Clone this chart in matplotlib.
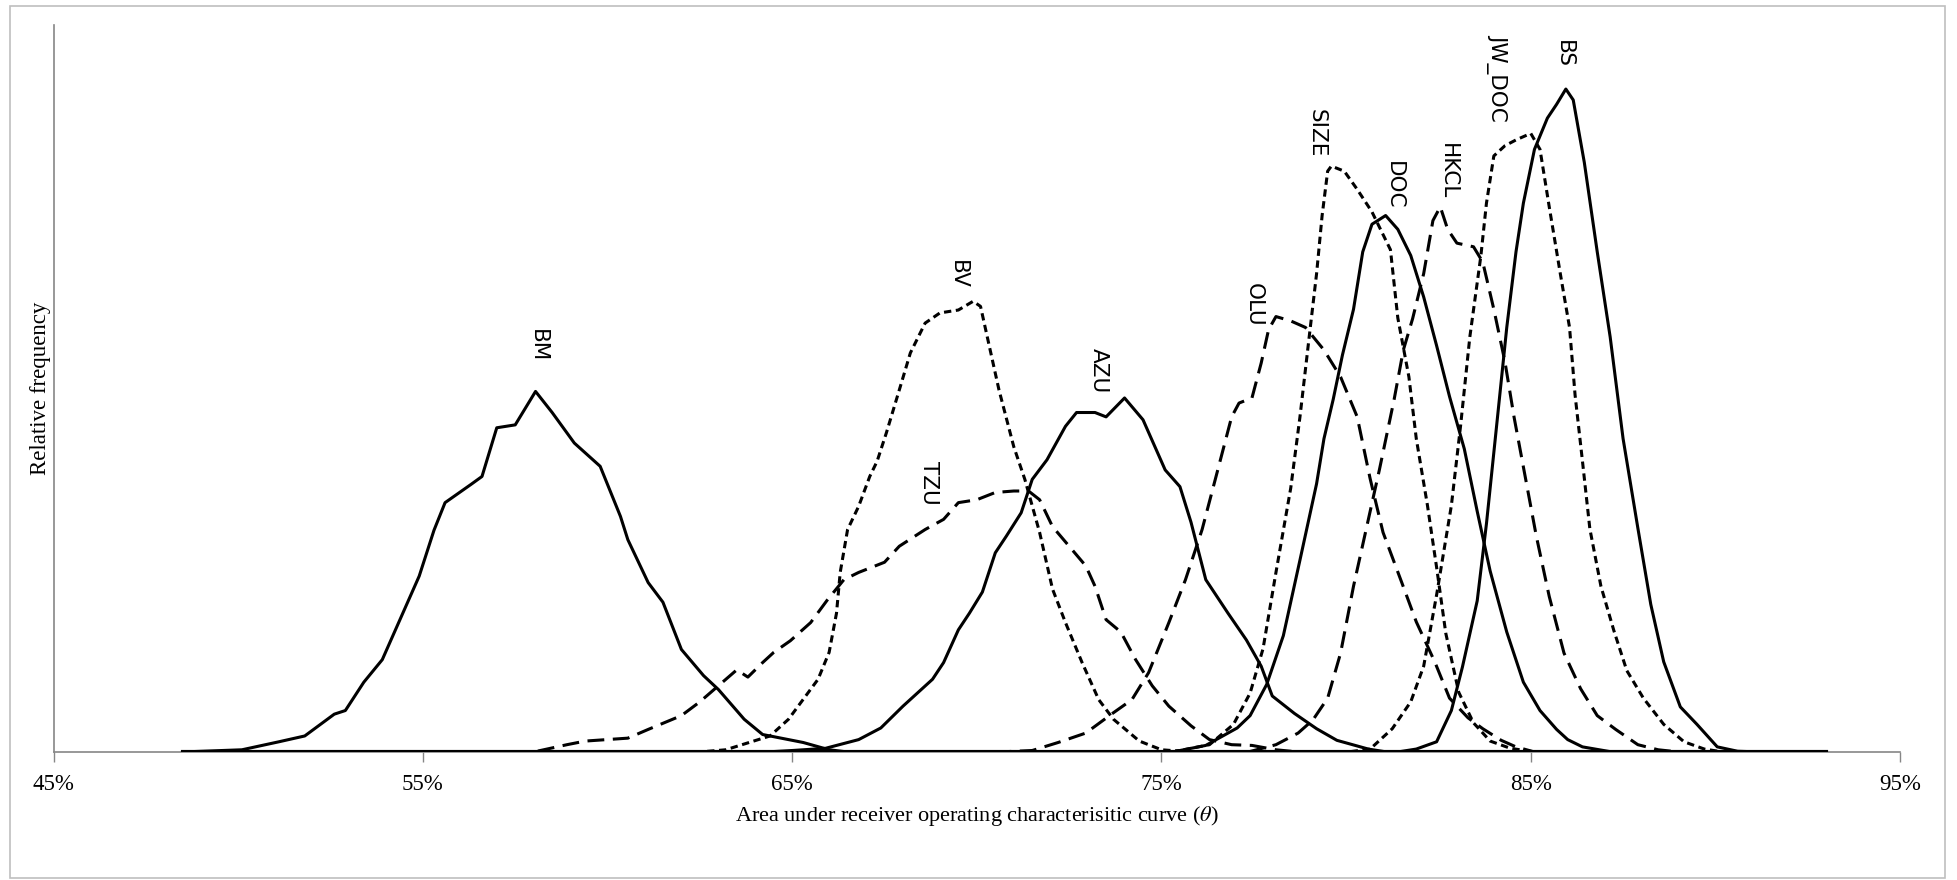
import matplotlib
matplotlib.use("Agg")
import matplotlib.pyplot as plt
from matplotlib.patches import Rectangle

# support of every density (all curves run along zero outside their bump)
GRID_START = 48.5
GRID_END = 93.0

# AUC (%) and relative frequency (arbitrary units, axis top = 100)
BM_X = [50.1, 51.1, 51.8, 52.6, 52.9, 53.4, 53.9, 54.5, 54.9, 55.3, 55.6, 56.3, 56.6, 57.0,
        57.5, 58.05, 58.5, 59.1, 59.8, 60.35, 60.55, 61.1, 61.5, 62.0, 62.6, 63.0, 63.7, 64.2,
        64.7, 65.3, 66.0, 66.5]
BM_Y = [0.3, 1.4, 2.2, 5.2, 5.7, 9.6, 12.7, 19.6, 24.2, 30.5, 34.3, 36.8, 37.9, 44.6,
        45.0, 49.6, 46.7, 42.5, 39.3, 32.4, 29.2, 23.3, 20.6, 14.1, 10.5, 8.6, 4.5, 2.4,
        1.9, 1.3, 0.3, 0.0]

BV_X = [62.5, 63.2, 64.4, 64.9, 65.7, 66.0, 66.2, 66.3, 66.5, 66.8, 67.1, 67.3, 67.55, 67.9,
        68.2, 68.6, 69.0, 69.5, 69.9, 70.1, 70.4, 70.6, 71.0, 71.3, 71.7, 72.05, 72.4, 72.85,
        73.3, 73.7, 74.4, 75.0, 75.8]
BV_Y = [0.0, 0.3, 2.2, 4.5, 10.0, 13.7, 19.1, 24.7, 30.6, 33.8, 37.9, 40.0, 43.9, 49.8,
        54.9, 59.0, 60.4, 60.8, 62.0, 61.3, 54.4, 49.8, 42.0, 37.5, 30.2, 22.4, 17.8, 12.3,
        7.2, 4.5, 1.5, 0.3, 0.0]

TZU_X = [58.0, 58.9, 59.4, 60.55, 61.1, 62.0, 62.5, 63.0, 63.5, 63.8, 64.2, 64.5, 64.95, 65.5,
         65.95, 66.4, 66.8, 67.5, 67.9, 68.6, 69.1, 69.5, 70.0, 70.5, 71.0, 71.4, 71.7, 72.05,
         72.5, 72.95, 73.2, 73.5, 73.9, 74.3, 74.75, 75.2, 75.8, 76.3, 76.9, 77.45, 78.1, 78.7]
TZU_Y = [0.0, 1.0, 1.5, 1.9, 3.1, 5.0, 6.9, 9.1, 11.3, 10.3, 12.3, 13.7, 15.3, 17.8,
         20.9, 23.7, 24.7, 26.1, 28.3, 30.6, 32.0, 34.3, 34.7, 35.7, 35.9, 35.9, 34.7, 31.0,
         28.3, 25.6, 22.8, 18.2, 16.5, 12.7, 9.1, 6.3, 3.6, 1.7, 1.0, 0.9, 0.3, 0.0]

AZU_X = [64.3, 65.0, 65.9, 66.8, 67.4, 68.0, 68.8, 69.1, 69.5, 69.8, 70.15, 70.5, 70.8, 71.2,
         71.5, 71.9, 72.4, 72.7, 73.2, 73.5, 74.0, 74.5, 75.1, 75.5, 75.8, 76.2, 76.8, 77.3,
         77.7, 78.0, 78.6, 79.2, 79.75, 80.6, 81.1]
AZU_Y = [0.0, 0.2, 0.5, 1.7, 3.3, 6.3, 10.0, 12.3, 16.8, 19.1, 22.0, 27.4, 29.7, 32.9,
         37.5, 40.2, 44.8, 46.7, 46.7, 46.1, 48.7, 45.7, 38.8, 36.5, 31.6, 23.7, 19.1, 15.4,
         11.8, 7.7, 5.3, 3.2, 1.6, 0.4, 0.0]

OLU_X = [70.6, 71.5, 72.2, 72.95, 73.7, 74.2, 74.65, 75.2, 75.65, 76.1, 76.55, 76.9, 77.1, 77.45,
         77.7, 77.9, 78.1, 78.5, 78.9, 79.4, 79.85, 80.3, 80.65, 81.0, 81.5, 81.9, 82.4, 82.8,
         83.3, 83.7, 84.2, 84.6, 85.1]
OLU_Y = [0.0, 0.2, 1.3, 2.6, 5.4, 7.2, 10.9, 17.8, 23.7, 30.6, 39.3, 46.1, 48.0, 48.7,
         53.5, 58.1, 59.9, 59.3, 58.4, 55.3, 51.6, 46.1, 37.6, 30.2, 23.4, 17.9, 12.4, 7.4,
         4.7, 3.2, 1.6, 0.7, 0.0]

SIZE_X = [75.3, 76.3, 76.95, 77.4, 77.75, 78.1, 78.5, 78.75, 79.0, 79.2, 79.35, 79.5, 79.6, 79.95,
          80.3, 80.7, 81.2, 81.4, 81.7, 81.9, 82.2, 82.45, 82.7, 83.05, 83.45, 83.9, 84.45, 85.1]
SIZE_Y = [0.0, 1.0, 3.8, 8.1, 14.2, 24.7, 36.3, 46.1, 57.1, 65.8, 73.8, 79.9, 80.6, 79.9,
          77.4, 74.3, 69.1, 59.7, 51.6, 43.1, 34.0, 25.4, 16.3, 8.2, 4.0, 1.5, 0.5, 0.0]

DOC_X = [75.3, 76.2, 77.05, 77.4, 77.85, 78.3, 78.75, 79.2, 79.4, 79.65, 79.9, 80.2, 80.45, 80.7,
         81.07, 81.4, 81.75, 82.1, 82.45, 82.8, 83.2, 83.55, 83.9, 84.35, 84.8, 85.25, 85.7, 86.0,
         86.4, 87.2]
DOC_Y = [0.0, 0.9, 3.3, 5.0, 9.3, 16.0, 26.4, 36.9, 43.1, 48.5, 54.6, 60.9, 68.8, 72.6,
         73.8, 71.9, 68.3, 62.6, 55.9, 48.9, 41.7, 33.1, 24.9, 16.5, 9.6, 5.7, 3.1, 1.7,
         0.7, 0.0]

HKCL_X = [77.35, 78.1, 78.7, 79.1, 79.5, 79.85, 80.2, 80.55, 80.9, 81.3, 81.55, 81.8, 82.1, 82.35,
          82.55, 82.75, 83.0, 83.45, 83.7, 84.0, 84.3, 84.55, 84.9, 85.15, 85.5, 85.9, 86.35,
          86.8, 87.3, 87.9, 88.45, 89.0]
HKCL_Y = [0.0, 1.0, 2.6, 4.4, 7.4, 13.6, 22.8, 30.8, 38.8, 48.5, 55.3, 59.6, 65.8, 73.1,
          75.0, 71.9, 70.0, 69.5, 67.4, 60.9, 53.7, 46.0, 36.5, 29.7, 21.4, 13.6, 8.7,
          5.0, 3.1, 1.0, 0.3, 0.0]

JW_DOC_X = [80.05, 80.65, 81.25, 81.75, 82.1, 82.45, 82.85, 83.1, 83.35, 83.65, 83.8, 84.0, 84.3, 84.6,
            85.0, 85.25, 85.5, 85.8, 86.05, 86.2, 86.4, 86.6, 86.9, 87.25, 87.6, 88.05, 88.6,
            89.15, 89.7, 90.2]
JW_DOC_Y = [0.0, 0.4, 3.2, 6.9, 11.8, 21.6, 33.9, 44.9, 57.1, 68.3, 75.5, 82.0, 83.4, 84.2,
            85.1, 82.9, 75.0, 65.8, 58.4, 49.1, 40.0, 30.7, 22.8, 16.7, 11.2, 7.4, 3.8,
            1.4, 0.4, 0.0]

BS_X = [81.4, 81.9, 82.45, 82.85, 83.15, 83.55, 83.8, 84.1, 84.35, 84.6, 84.8, 85.1, 85.45, 85.7,
        85.95, 86.15, 86.45, 86.8, 87.15, 87.5, 87.9, 88.25, 88.6, 89.05, 89.5, 90.05, 90.6, 91.2]
BS_Y = [0.0, 0.4, 1.4, 5.7, 11.7, 20.8, 31.4, 46.1, 58.4, 68.8, 75.5, 82.9, 87.2, 89.1,
        91.2, 89.7, 81.1, 68.8, 57.1, 43.1, 30.8, 20.3, 12.4, 6.2, 3.8, 0.7, 0.1, 0.0]

# label anchor (x %, height) for each curve name
LABELS = ["BM", "BV", "TZU", "AZU", "OLU", "SIZE", "DOC", "HKCL", "JW_DOC", "BS"]
LABEL_X = [58.1, 69.5, 68.7, 73.3, 77.5, 79.2, 81.3, 82.75, 84.1, 85.9]
LABEL_Y = [55.9, 65.7, 37.0, 52.5, 61.5, 85.1, 78.0, 79.9, 92.8, 96.0]

XTICKS = [45, 55, 65, 75, 85, 95]

solid = "-"
short_dash = (0, (2.4, 1.5))
long_dash = (0, (5.5, 2.8))

series = [
    (BM_X, BM_Y, solid),
    (BV_X, BV_Y, short_dash),
    (TZU_X, TZU_Y, long_dash),
    (AZU_X, AZU_Y, solid),
    (OLU_X, OLU_Y, long_dash),
    (SIZE_X, SIZE_Y, short_dash),
    (DOC_X, DOC_Y, solid),
    (HKCL_X, HKCL_Y, long_dash),
    (JW_DOC_X, JW_DOC_Y, short_dash),
    (BS_X, BS_Y, solid),
]

plt.rcParams['mathtext.fontset'] = 'stix'

fig = plt.figure(figsize=(19.57, 8.8), dpi=100)
ax = fig.add_axes([0.0274, 0.1455, 0.9435, 0.826])

for xs, ys, ls in series:
    ax.plot([GRID_START] + xs + [GRID_END], [0] + ys + [0],
            color="black", lw=2.2, linestyle=ls, solid_capstyle="round",
            solid_joinstyle="round", dash_joinstyle="round")

# heavy common baseline where all densities sit on zero
ax.plot([GRID_START, GRID_END], [0, 0], color="black", lw=3.0, zorder=3)

for name, lx, ly in zip(LABELS, LABEL_X, LABEL_Y):
    ax.text(lx, ly, name, rotation=270, ha="center", va="center",
            fontsize=15.5, family="DejaVu Sans")

ax.set_xlim(45, 95)
ax.set_ylim(0, 100)
ax.set_xticks(XTICKS)
ax.set_xticklabels(["%d%%" % t for t in XTICKS], family="Liberation Serif", fontsize=16.5)
ax.set_yticks([])
ax.tick_params(axis="x", direction="out", length=7, width=1, color="#868686", pad=9)

for side in ["top", "right"]:
    ax.spines[side].set_visible(False)
for side in ["left", "bottom"]:
    ax.spines[side].set_color("#868686")
    ax.spines[side].set_linewidth(1.2)

ax.set_xlabel(r"Area under receiver operating characterisitic curve ($\theta$)",
              family="Liberation Serif", fontsize=16, labelpad=6)
ax.set_ylabel("Relative frequency", family="Liberation Serif", fontsize=16.5, labelpad=2)

fig.add_artist(Rectangle((0.0051, 0.002), 0.9888, 0.991, transform=fig.transFigure,
                         fill=False, ec="#bfbfbf", lw=1.2))

fig.savefig("out.png", dpi=100)
